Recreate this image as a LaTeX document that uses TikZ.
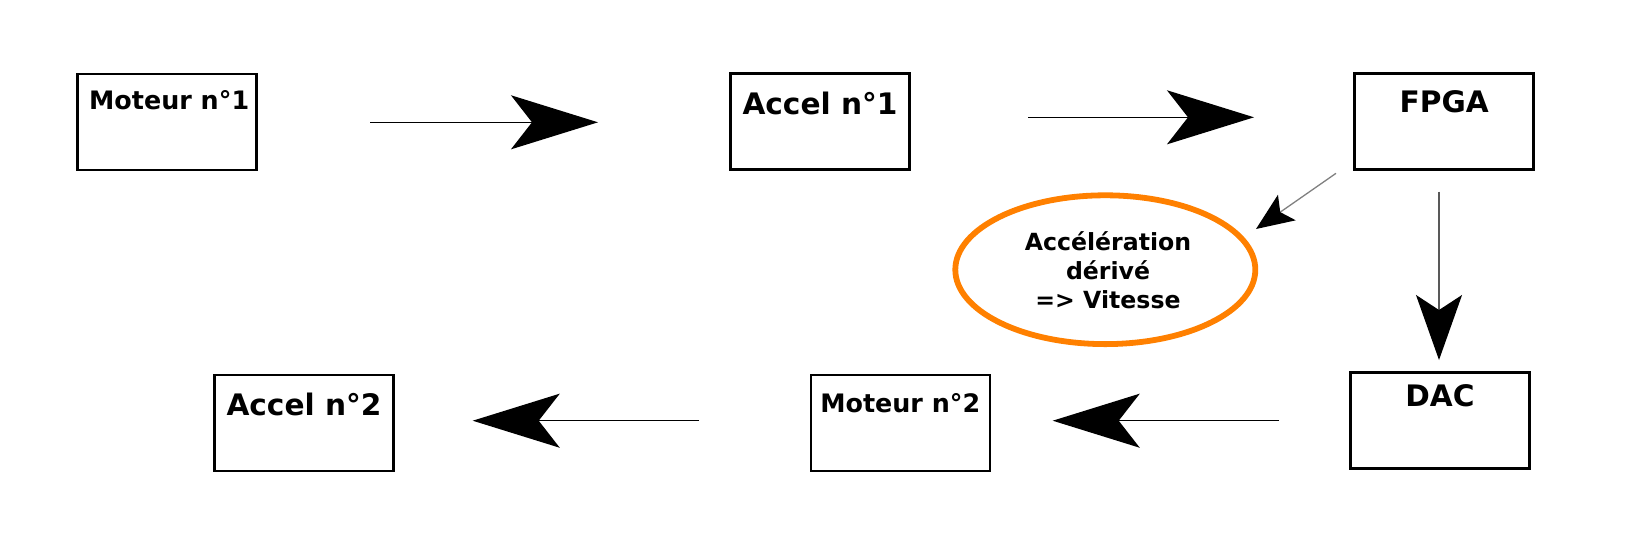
\documentclass[tikz,border=0pt]{standalone}
\usepackage{fontspec}
\setmainfont{DejaVu Sans}
\usetikzlibrary{arrows.meta,shapes.geometric}
\definecolor{ellorange}{RGB}{255,128,0}
\tikzset{
  box/.style={draw=black, line width=1.3pt, minimum width=89.5pt, inner sep=0pt},
  fbig/.style={font=\bfseries\fontsize{14.8pt}{17pt}\selectfont},
  fsmall/.style={font=\bfseries\fontsize{12.7pt}{14pt}\selectfont},
  bigarrow/.style={draw=black, line width=0.75pt, -{Stealth[length=43.5pt, width=27pt, inset=10.5pt]}},
  diagarrow/.style={draw=black!50, line width=0.65pt, -{Stealth[length=18.75pt, width=15.5pt, inset=4pt, color=black]}},
  vertarrow/.style={draw=black!65, line width=0.65pt, -{Stealth[length=32.5pt, width=23pt, inset=7.5pt, color=black]}},
  ellbox/.style={ellipse, draw=ellorange, line width=2.9pt, minimum width=150pt, minimum height=74.4pt, inner sep=0pt},
  elltext/.style={align=center, inner sep=0pt, font=\bfseries\fontsize{11.8pt}{14.4pt}\selectfont}
}
\begin{document}
\begin{tikzpicture}[x=0.5pt, y=-0.5pt]
\useasboundingbox (0,0) rectangle (1631,547);
% boxes
\node[box, fsmall, text height=17.65pt, text depth=30.35pt] (m1) at (166.7,122) {\hspace{2.5pt}Moteur n°1};
\node[box, fbig, text height=20.35pt, text depth=27.65pt] (a1) at (820,121.3) {Accel n°1};
\node[box, fbig, text height=19.5pt, text depth=28.5pt] (fpga) at (1444.2,121.3) {FPGA};
\node[box, fbig, text height=17pt, text depth=31pt] (dac) at (1440,420.5) {DAC};
\node[box, fsmall, text height=18.85pt, text depth=29.15pt] (m2) at (900.3,423) {Moteur n°2};
\node[box, fbig, text height=20pt, text depth=28pt] (a2) at (304,423) {Accel n°2};
% ellipse
\node[ellbox] (ell) at (1105.3,269.7) {};
\node[elltext] (elltxt) at (1108,270) {Accélération\\dérivé\\=> Vitesse};
% connector end points
\coordinate (p1s) at (370,122.3);
\coordinate (p1e) at (598,122.3);
\coordinate (p2s) at (1028.3,117.3);
\coordinate (p2e) at (1254,117.3);
\coordinate (pds) at (1336,173.3);
\coordinate (pde) at (1256,229);
\coordinate (pvs) at (1439,191.7);
\coordinate (pve) at (1439,360);
\coordinate (p3s) at (1279,420.7);
\coordinate (p3e) at (1052.7,420.7);
\coordinate (p4s) at (699,420.7);
\coordinate (p4e) at (472.7,420.7);
% connectors
\draw[bigarrow] (p1s) -- (p1e);
\draw[bigarrow] (p2s) -- (p2e);
\draw[diagarrow] (pds) -- (pde);
\draw[vertarrow] (pvs) -- (pve);
\draw[bigarrow] (p3s) -- (p3e);
\draw[bigarrow] (p4s) -- (p4e);
\end{tikzpicture}
\end{document}
